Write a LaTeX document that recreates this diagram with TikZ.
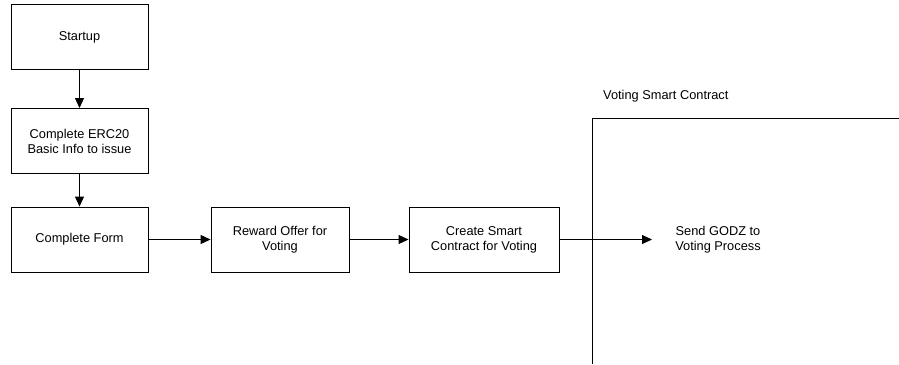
\documentclass[tikz,border=0pt]{standalone}
\usepackage{fontspec}
\setmainfont{Liberation Sans}
\usetikzlibrary{arrows.meta}
\tikzset{arrow/.style={-{Triangle[length=10pt,width=9pt]}, line width=0.9pt}}
\tikzset{stepbox/.style={draw, line width=0.9pt, minimum width=137pt, minimum height=65pt, align=center, inner sep=0pt}}

\begin{document}
\begin{tikzpicture}[x=1pt, y=-1pt, font=\fontsize{12.8}{15}\selectfont]
    \useasboundingbox (0, 0) rectangle (899, 364);
    \node[stepbox] (startup) at (79.5, 37) {Startup};
    \node[stepbox] (erc) at (79.5, 141) {Complete ERC20\\Basic Info to issue};
    \node[stepbox] (form) at (79.5, 239.5) {Complete Form};
    \node[stepbox, minimum width=138pt] (reward) at (280, 239.5) {Reward Offer for\\Voting};
    \node[stepbox, minimum width=150pt] (create) at (484, 239.5) {Create Smart\\Contract for Voting};
    \node[align=center, inner sep=0pt] (send) at (718, 240) {Send GODZ to\\Voting Process};
    \coordinate (sendin) at (652, 239.5);
    \node[anchor=west, inner sep=0pt] (vsc) at (603, 96) {Voting Smart Contract};
    \draw[line width=0.9pt] (592, 364) -- (592, 118) -- (899, 118);
    \draw[arrow] (startup) to (erc);
    \draw[arrow] (erc) to (form);
    \draw[arrow] (form) to (reward);
    \draw[arrow] (reward) to (create);
    \draw[arrow] (create) to (sendin);
  \end{tikzpicture}
\end{document}
